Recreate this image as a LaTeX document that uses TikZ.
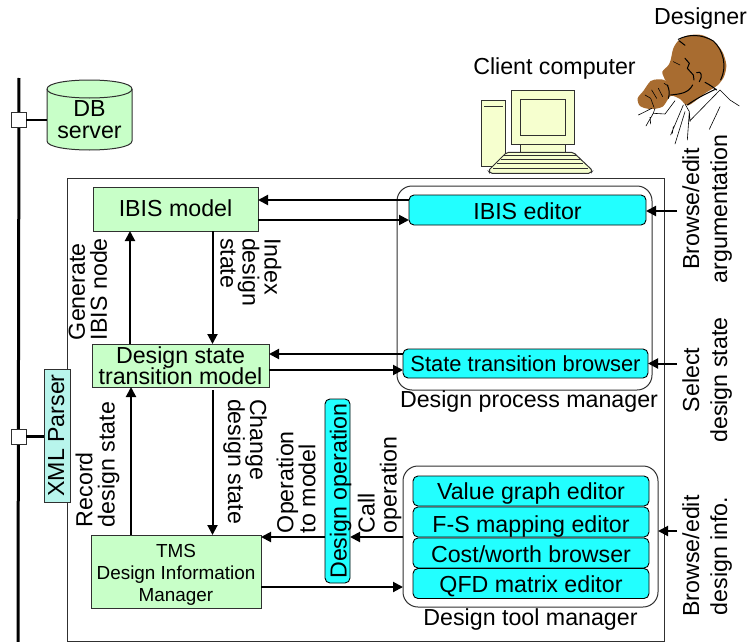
\documentclass[tikz,border=0pt]{standalone}
\usepackage{fontspec}
\setmainfont{Liberation Sans}
\usetikzlibrary{arrows.meta}
\lineskiplimit=-50pt
\normallineskiplimit=-50pt
\definecolor{modelgreen}{HTML}{C8FFC8}
\definecolor{toolcyan}{HTML}{22FFFF}
\definecolor{xmlcyan}{HTML}{B8F5EC}
\definecolor{pcyellow}{HTML}{F6FFCF}
\definecolor{skin}{HTML}{A86C30}
\definecolor{edge}{HTML}{303030}
\tikzset{
  every node/.style={inner sep=0pt,outer sep=0pt,font=\fontsize{23.2}{22}\selectfont,align=center},
  model/.style={draw=edge,line width=.9pt,fill=modelgreen},
  tool/.style={draw=black,line width=.9pt,fill=toolcyan,rounded corners=5pt},
  base/.style={text height=#1,text depth=0pt},
  holder/.style={draw=edge,line width=1pt,rounded corners=15pt},
  arr/.style={line width=2pt,-{Triangle[length=10pt,width=10pt]}},
  pcpart/.style={draw=edge,line width=1pt,fill=pcyellow},
  junction/.style={draw=edge,line width=1pt,fill=white,minimum size=15pt},
  lab/.style={align=left,anchor=west},
  wide/.style={font=\fontsize{23.2}{28}\selectfont}
}
\begin{document}
\begin{tikzpicture}[x=1pt,y=-1pt]
\useasboundingbox (0,0) rectangle (749,642);
% LAN
\coordinate (bustop) at (19,78);
\coordinate (busend) at (18,642);
\draw[line width=3pt] (bustop) -- (busend);
\node[junction] (j1) at (18.5,120) {};
\node[junction] (j2) at (18.5,436.5) {};
% DB
\draw[draw=edge,line width=1pt,fill=modelgreen] (47,89) -- (47,141) .. controls (47,153) and (132,153) .. (132,141) -- (132,89) .. controls (132,77) and (47,77) .. (47,89) -- cycle;
\draw[draw=edge,line width=1pt] (47,89) .. controls (47,101) and (132,101) .. (132,89);
\node[minimum width=85pt,minimum height=40pt] (db) at (89.5,119.5) {DB\\server};
\draw[line width=2.5pt] (j1) -- (db.west |- j1);
% outer frame
\node[draw=edge,line width=1pt,minimum width=597pt,minimum height=463pt] (frame) at (365.5,409.5) {};
% XML
\node[draw=edge,line width=.9pt,fill=xmlcyan,minimum width=133pt,minimum height=26pt,rotate=90,base=14pt] (xml) at (57,435.5) {XML Parser};
\draw[line width=2.5pt] (j2) -- (xml.north |- j2);
% holders
\node[holder,minimum width=255pt,minimum height=204pt] (dpm) at (524.5,288) {};
\node[holder,minimum width=255pt,minimum height=141pt] (dtm) at (530.5,536.5) {};
% models
\node[model,minimum width=165pt,minimum height=44pt,base=14pt] (ibis) at (175.5,209) {IBIS model};
\node[model,minimum width=177pt,minimum height=43pt,font=\fontsize{23.2}{20.6}\selectfont] (dst) at (180.5,365.5) {Design state\\transition model};
\node[model,minimum width=170pt,minimum height=73pt,font=\fontsize{18.9}{22}\selectfont] (tms) at (176,571.5) {\rule{0pt}{20pt}TMS\\Design Information\\Manager};
% tools
\node[tool,minimum width=237pt,minimum height=30pt,base=18.6pt] (ibised) at (527.5,210) {IBIS editor};
\node[tool,minimum width=245pt,minimum height=29pt,font=\fontsize{21.9}{22}\selectfont,base=15pt] (stb) at (525.5,363.5) {State transition browser};
\node[tool,minimum width=236pt,minimum height=30pt,base=16pt] (vg) at (531,491) {Value graph editor};
\node[tool,minimum width=236pt,minimum height=30pt,base=20pt] (fs) at (531,522) {F-S mapping editor};
\node[tool,minimum width=236pt,minimum height=30pt,base=19.4pt] (cw) at (531,553) {Cost/worth browser};
\node[tool,minimum width=236pt,minimum height=30pt,base=18pt] (qfd) at (531,583.5) {QFD matrix editor};
\node[tool,minimum width=184pt,minimum height=25pt,rotate=90,base=18.4pt] (dop) at (337.5,491) {Design operation};
% arrows
\draw[arr] (ibised.west |- 0,200) -- (ibis.east |- 0,200);
\draw[arr] (ibis.east |- 0,220) -- (ibised.west |- 0,220);
\draw[arr] (stb.west |- 0,354) -- (dst.east |- 0,354);
\draw[arr] (dst.east |- 0,370) -- (stb.west |- 0,370);
\draw[arr] (dst.north -| 130,0) -- (ibis.south -| 130,0);
\draw[arr] (ibis.south -| 212.5,0) -- (dst.north -| 212.5,0);
\draw[arr] (tms.north -| 131,0) -- (dst.south -| 131,0);
\draw[arr] ([yshift=-3pt]dst.south -| 212.5,0) -- (tms.north -| 212.5,0);
\draw[arr] (dop.north |- 0,537) -- (tms.east |- 0,537);
\draw[arr] (dtm.west |- 0,537) -- (dop.south |- 0,537);
\draw[arr] (tms.east |- 0,587) -- (dtm.west |- 0,587);
\coordinate (u1) at (677,211);
\coordinate (u2) at (677,363.5);
\coordinate (u3) at (677,531);
\draw[arr] (u1) -- (ibised.east |- u1);
\draw[arr] (u2) -- (stb.east |- u2);
\draw[arr] (u3) -- (dtm.east |- u3);
% arrow labels
\node[lab,rotate=90] (l1) at (88,340) {Generate\\IBIS node};
\node[lab,rotate=-90] (l2) at (251,238) {Index\\design\\state};
\node[lab,rotate=90] (l3) at (97.5,527) {Record\\design state};
\node[lab,rotate=-90] (l4) at (245,399) {Change\\design state};
\node[lab,rotate=90] (l5) at (296,533) {Operation\\to model};
\node[lab,rotate=90] (l6) at (379.5,533) {Call\\operation};
\node[wide,rotate=90] (l7) at (707,209) {Browse/edit\\argumentation};
\node[wide,rotate=90] (l8) at (707,380) {Select\\design state};
\node[wide,rotate=90] (l9) at (707,556) {Browse/edit\\design info.};
\node (l10) at (529,401) {Design process manager};
\node (l11) at (530.5,619) {Design tool manager};
\node (l12) at (554.5,69) {Client computer};
\node (l13) at (700.5,19) {Designer};
% computer
\begin{scope}[shift={(460,0)},x=.3333pt,y=-.3333pt]
  \draw[pcpart] (65,303) rectangle (137,500);
  \draw[line width=1.4pt,edge] (73,320) -- (129,320);
  \draw[pcpart] (181,430) rectangle (317,462);
  \draw[pcpart] (155,271) rectangle (344,435);
  \draw[pcpart] (181,298) rectangle (317,408);
  \draw[pcpart,rounded corners=2pt] (140,457) -- (340,457) -- (398,512) -- (392,520) -- (90,520) -- (85,512) -- cycle;
  \draw[edge,line width=1pt] (132,467) -- (350,467) (122,478) -- (360,478) (112,490) -- (368,490) (100,505) -- (385,505);
\end{scope}
% designer
\begin{scope}[shift={(630,30)},x=.3333pt,y=-.3333pt]
  \fill[skin] plot[smooth cycle,tension=.5] coordinates {(147,30) (175,16) (215,15) (250,33) (277,65) (289,105) (282,140) (264,165) (250,175) (225,190) (175,226) (150,207) (122,198) (98,230) (60,237) (30,228) (23,205) (40,183) (62,153) (85,148) (103,150) (110,160) (101,140) (97,125) (115,106) (122,90) (130,55)};
  \draw[black,line width=1pt,line cap=round,line join=round]
    (145,28) .. controls (175,12) and (215,12) .. (250,33) .. controls (280,60) and (292,110) .. (272,150)
    (147,32) -- (165,46)
    (225,157) .. controls (240,165) and (250,172) .. (260,180)
    (172,225) .. controls (200,205) and (230,190) .. (258,177)
    (122,195) .. controls (150,192) and (175,190) .. (188,165)
    (165,85) -- (178,100) -- (172,115) -- (190,135) -- (192,150)
    (200,128) .. controls (215,120) and (218,140) .. (208,155)
    (112,165) .. controls (118,180) and (120,190) .. (115,205);
  \draw[black,line width=.6pt,line cap=round,line join=round]
    (130,95) -- (150,105)
    (45,195) -- (62,205) (65,180) -- (80,205) (85,175) -- (98,200) (62,205) -- (72,232)
    (102,160) -- (115,168)
    (25,255) .. controls (40,248) and (55,240) .. (65,235)
    (75,235) .. controls (70,255) and (60,265) .. (48,288)
    (70,250) -- (105,252) -- (135,212)
    (60,262) -- (62,282)
    (180,272) -- (270,180) -- (300,210) -- (328,228)
    (165,222) -- (178,245) -- (172,330)
    (160,225) -- (122,315)
    (130,290) -- (127,310)
    (165,245) -- (135,342)
    (178,245) -- (180,275)
    (270,230) -- (238,298);
\end{scope}
\end{tikzpicture}
\end{document}
